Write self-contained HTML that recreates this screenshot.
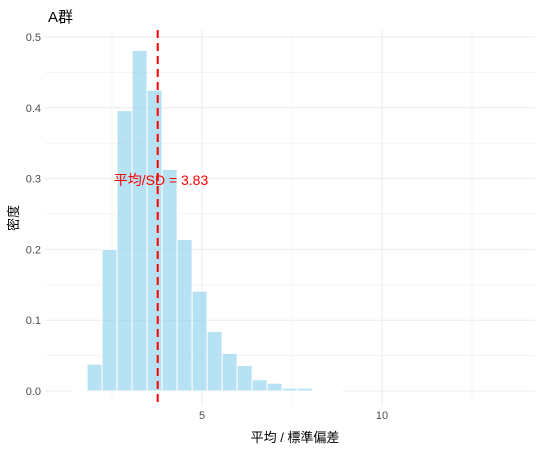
<!DOCTYPE html>
<html><head><meta charset="utf-8"><style>
body{margin:0;background:#fff;}
text{font-family:"Liberation Sans","Noto Sans CJK JP",sans-serif;}
</style></head><body>
<svg id="chart" width="547" height="453" xmlns="http://www.w3.org/2000/svg"></svg>
<script>
const binStart = 1.39;
const binWidth = 0.417;
const densities = [0.001,0.038,0.2,0.396,0.481,0.425,0.313,0.214,0.141,0.084,0.053,0.036,0.016,0.011,0.004,0.004,0.001,0.001];
const yTicks = [0,0.1,0.2,0.3,0.4,0.5];
const yTickLabels = ["0.0","0.1","0.2","0.3","0.4","0.5"];
const xTicks = [5,10];
const xTickLabels = ["5","10"];
const meanLine = 3.77;
const meanLabel = "平均/SD = 3.83";

const NS="http://www.w3.org/2000/svg";
const svg=document.getElementById('chart');
const L=45,R=535,T=30,B=405;
const xs=v=>202+(v-5)*36;
const ys=v=>391-v*708;
function mk(tag,attrs,parent){const e=document.createElementNS(NS,tag);for(const k in attrs)e.setAttribute(k,attrs[k]);(parent||svg).appendChild(e);return e;}
const grid=mk('g',{});


for(let v=0;v<=0.55;v+=0.05){const y=ys(v);if(y<T)break;mk('line',{x1:L,x2:R,y1:y,y2:y,stroke:'#ebebeb','stroke-width':(Math.round(v*100)%10===0)?1:0.5},grid);}
for(let v=2.5;v<=14;v+=2.5){const x=xs(v);mk('line',{x1:x,x2:x,y1:T,y2:B,stroke:'#ebebeb','stroke-width':(v%5===0)?1:0.5},grid);}
const bars=mk('g',{});


densities.forEach((d,i)=>{
  const x0=xs(binStart+i*binWidth),x1=xs(binStart+(i+1)*binWidth);
  const r=mk('rect',{x:x0,y:ys(d),width:x1-x0,height:ys(0)-ys(d),fill:'#87ceeb','fill-opacity':0.6,stroke:'#fff','stroke-width':1},bars);
  
  
});
const ml=mk('line',{x1:xs(meanLine),x2:xs(meanLine),y1:T,y2:B,stroke:'#ff0000','stroke-width':2,'stroke-dasharray':'8,5'});


const at=mk('text',{x:161,y:185,fill:'#ff0000','font-size':14,'text-anchor':'middle'});
at.textContent=meanLabel;


yTicks.forEach((v,i)=>{const t=mk('text',{x:41,y:ys(v)+4,fill:'#4d4d4d','font-size':11,'text-anchor':'end'});t.textContent=yTickLabels[i];

});
xTicks.forEach((v,i)=>{const t=mk('text',{x:xs(v),y:419,fill:'#4d4d4d','font-size':11,'text-anchor':'middle'});t.textContent=xTickLabels[i];

});
const title=mk('text',{x:48,y:22,fill:'#000','font-size':15});title.textContent='A群';


const xl=mk('text',{x:295,y:442,fill:'#000','font-size':13,'text-anchor':'middle'});xl.textContent='平均 / 標準偏差';


const yl=mk('text',{x:18,y:218,fill:'#000','font-size':13,'text-anchor':'middle',transform:'rotate(-90 18 218)'});yl.textContent='密度';


</script>
</body></html>
